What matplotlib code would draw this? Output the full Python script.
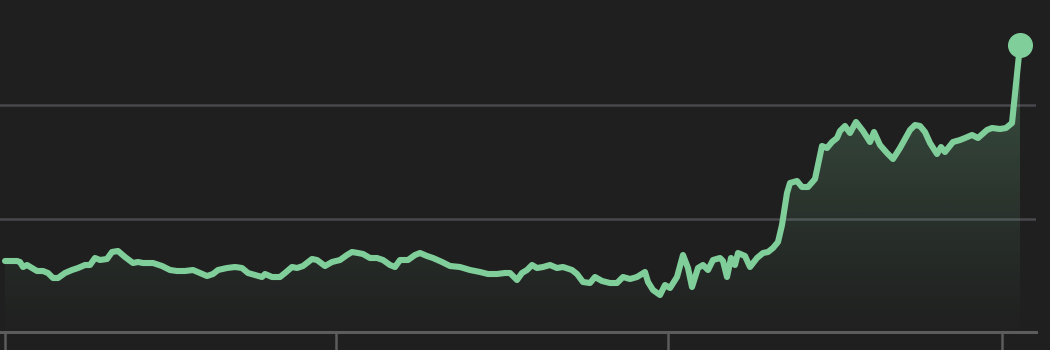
import numpy as np
import matplotlib
matplotlib.use("Agg")
import matplotlib.pyplot as plt
from matplotlib.patches import Polygon

# ---- data ----
t = [5, 17, 20, 23, 27, 32, 37, 43, 48, 53, 58, 65, 72, 78, 85, 90, 95, 100, 107, 112,
     118, 125, 133, 138, 143, 153, 162, 170, 177, 185, 193, 200, 207, 213, 218, 227, 235,
     242, 248, 255, 262, 265, 272, 280, 285, 292, 297, 303, 312, 317, 325, 332, 340, 347,
     352, 358, 363, 370, 377, 383, 390, 395, 400, 408, 415, 420, 427, 433, 442, 450, 460,
     470, 480, 488, 497, 505, 510, 517, 522, 527, 532, 537, 543, 550, 557, 563, 572, 577,
     583, 590, 595, 602, 610, 617, 623, 630, 637, 645, 648, 653, 660, 665, 670, 677, 683,
     688, 692, 698, 703, 708, 713, 720, 723, 727, 731, 735, 738, 745, 750, 757, 763, 768,
     773, 778, 782, 787, 790, 797, 802, 808, 815, 822, 827, 832, 837, 840, 845, 850, 856,
     863, 870, 874, 880, 887, 893, 900, 910, 915, 920, 925, 930, 937, 941, 945, 953, 960,
     965, 972, 978, 987, 992, 1000, 1006, 1012, 1020]
py = [261, 261, 262, 267, 265, 268, 271, 271, 273, 278, 278, 273, 270, 268, 265, 265, 258,
      260, 259, 252, 251, 257, 263, 262, 263, 263, 266, 270, 271, 271, 270, 273, 276, 274,
      270, 268, 267, 268, 273, 275, 277, 274, 277, 277, 273, 267, 268, 266, 259, 260, 266,
      262, 260, 255, 252, 253, 254, 258, 258, 260, 265, 267, 260, 260, 255, 253, 256, 258,
      262, 266, 267, 270, 272, 274, 274, 273, 273, 280, 273, 270, 265, 268, 267, 265, 268,
      267, 270, 274, 282, 283, 277, 281, 283, 283, 277, 279, 277, 272, 282, 290, 295, 285,
      288, 277, 255, 268, 287, 268, 265, 270, 260, 258, 261, 277, 258, 265, 253, 256, 267,
      258, 253, 252, 248, 242, 225, 193, 183, 181, 187, 187, 179, 146, 148, 142, 138, 131,
      126, 133, 122, 131, 142, 132, 145, 153, 159, 148, 130, 125, 126, 132, 143, 154, 147,
      152, 142, 140, 138, 135, 138, 130, 128, 129, 128, 123, 45]
values = [332 - p for p in py]          # level above the baseline
grid_levels = [113.5, 227]
tick_pos = [5, 336, 668, 1002]

BG = "#1f1f1f"
GREEN = "#80cf9a"

W, H = 1050, 350
fig = plt.figure(figsize=(W / 100, H / 100), dpi=100, facecolor=BG)
ax = fig.add_axes([0, 18 / H, 1036 / W, 332 / H], facecolor=BG)
ax.set_xlim(0, 1036)
ax.set_ylim(0, 332)

x = np.array(t, float)
y = np.array(values, float)

# gradient fill under the line
grad = np.linspace(0, 1, 256).reshape(-1, 1)
rgba = np.zeros((256, 1, 4))
rgba[..., :3] = matplotlib.colors.to_rgb(GREEN)
rgba[..., 3] = 0.01 + 0.30 * grad[:, 0:1] ** 1.2
im = ax.imshow(rgba, extent=[0, 1036, 0, 290], origin="lower", aspect="auto",
               zorder=1, interpolation="bilinear")
verts = np.column_stack([np.r_[x[0], x, x[-1]], np.r_[0, y, 0]])
clip = Polygon(verts, closed=True, transform=ax.transData, facecolor="none", edgecolor="none")
ax.add_patch(clip)
im.set_clip_path(clip)

for g in grid_levels:
    ax.axhline(g, color="#48484d", lw=1.8, zorder=0.5)

ax.plot(x, y, color=GREEN, lw=4.4, solid_joinstyle="round", solid_capstyle="round", zorder=3)
ax.plot([x[-1]], [y[-1]], "o", color=GREEN, ms=17, zorder=4)

for s in ["top", "right", "left"]:
    ax.spines[s].set_visible(False)
ax.spines["bottom"].set_color("#5c5c5c")
ax.spines["bottom"].set_linewidth(2.2)
ax.set_yticks([])
ax.set_xticks(tick_pos)
ax.set_xticklabels([])
ax.tick_params(axis="x", direction="out", length=14, width=1.8, color="#5c5c5c")

fig.savefig("out.png", dpi=100, facecolor=BG)
